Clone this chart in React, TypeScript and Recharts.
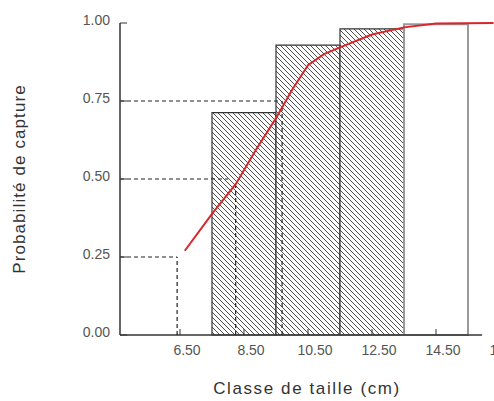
import React from 'react';
import { ComposedChart, Line, XAxis, YAxis, ReferenceLine, ReferenceArea } from 'recharts';

// Histogram of size classes (class centre, cm) and observed capture probability
const classMid = [8.5, 10.5, 12.5, 14.5];
const classProb = [0.7125, 0.929, 0.981, 0.996];
const CLASS_WIDTH = 2;

// Fitted selection curve (length, probability)
const curveLen = [6.65, 7.5, 8.25, 8.85, 9.5, 10.0, 10.5, 11.0, 11.5, 12.5, 13.5, 14.5, 16.3];
const curveProb = [0.27, 0.388, 0.485, 0.59, 0.695, 0.785, 0.865, 0.9, 0.922, 0.963, 0.986, 0.998, 1.0];

// Quartile guide lines (L25, L50, L75)
const quartileP = [0.25, 0.5, 0.75];
const quartileHEnd = [6.41, 8.0, 9.63];
const quartileLen = [6.41, 8.24, 9.69];
const quartileTop = [0.25, 0.48, 0.75];

// Axis ticks
const xTicks = [6.5, 8.5, 10.5, 12.5, 14.5, 16.5];
const yTicks = [0, 0.25, 0.5, 0.75, 1];

const X_MIN = 4.625;
const X_MAX = 16.3125;
const X_AXIS_END = 15.94;

const curveData = curveLen.map((x, i) => ({ x, y: curveProb[i] }));

const FONT = '"Liberation Sans", Arial, sans-serif';

const XTick = (props: any) => {
  const { x, y, payload } = props;
  return (
    <g>
      <line x1={x} x2={x} y1={y - 8} y2={y - 14} stroke="#333" strokeWidth={1} />
      <text x={x + 7} y={y} dy={12} textAnchor="middle" fill="#555" fontSize={14} fontFamily={FONT}>
        {Number(payload.value).toFixed(2)}
      </text>
    </g>
  );
};

const YTick = (props: any) => {
  const { x, y, payload } = props;
  return (
    <g>
      <line x1={x + 10} x2={x + 17} y1={y} y2={y} stroke="#333" strokeWidth={1} />
      <text x={x} y={y} dy={2} textAnchor="end" fill="#555" fontSize={14} fontFamily={FONT}>
        {Number(payload.value).toFixed(2)}
      </text>
    </g>
  );
};

export default function App() {
  const last = classMid.length - 1;
  return (
    <div style={{ position: 'absolute', left: 0, top: 0 }}>
      <ComposedChart
        width={494}
        height={401}
        data={curveData}
        margin={{ top: 23, right: 0, bottom: 0, left: 0 }}
      >
        <defs>
          <pattern id="hatch" patternUnits="userSpaceOnUse" width={5} height={5}>
            <rect x={0} y={0} width={5} height={5} fill="#ffffff" />
            <path d="M-1,-1 L6,6 M-1,4 L1,6 M4,-1 L6,1" stroke="#3a3a3a" strokeWidth={0.9} />
          </pattern>
        </defs>
        <XAxis
          type="number"
          dataKey="x"
          domain={[X_MIN, X_MAX]}
          allowDataOverflow
          ticks={xTicks}
          interval={0}
          height={66}
          axisLine={false}
          tickLine={false}
          tickSize={6}
          tickMargin={2}
          tick={<XTick />}
          label={{
            value: 'Classe de taille (cm)',
            position: 'insideBottom',
            offset: 7,
            fill: '#333',
            fontSize: 17,
            style: { fontFamily: FONT, letterSpacing: '1.6px' },
          }}
        />
        <YAxis
          type="number"
          domain={[0, 1]}
          ticks={yTicks}
          interval={0}
          width={120}
          axisLine={{ stroke: '#333', strokeWidth: 1.5 }}
          tickLine={false}
          tickSize={8}
          tickMargin={2}
          tick={<YTick />}
          label={{
            value: 'Probabilité de capture',
            angle: -90,
            position: 'insideLeft',
            offset: 19,
            fill: '#333',
            fontSize: 17,
            style: { textAnchor: 'middle', fontFamily: FONT, letterSpacing: '1.1px' },
          }}
        />
        {classMid.map((m, i) => (
          <ReferenceArea
            key={'bar' + i}
            x1={m - CLASS_WIDTH / 2}
            x2={m + CLASS_WIDTH / 2}
            y1={0}
            y2={classProb[i]}
            fill={i === last ? '#ffffff' : 'url(#hatch)'}
            fillOpacity={1}
            stroke={i === last ? '#9a9a9a' : '#333'}
            strokeWidth={i === last ? 2 : 1.2}
            ifOverflow="visible"
          />
        ))}
        <ReferenceLine
          segment={[{ x: X_MIN, y: 0 }, { x: X_AXIS_END, y: 0 }]}
          stroke="#333"
          strokeWidth={1.5}
          ifOverflow="visible"
        />
        {quartileP.map((p, i) => (
          <ReferenceLine
            key={'h' + i}
            segment={[{ x: X_MIN, y: p }, { x: quartileHEnd[i], y: p }]}
            stroke="#222"
            strokeWidth={1.2}
            strokeDasharray="4 3"
            ifOverflow="visible"
          />
        ))}
        {quartileLen.map((l, i) => (
          <ReferenceLine
            key={'v' + i}
            segment={[{ x: l, y: 0 }, { x: l, y: quartileTop[i] }]}
            stroke="#222"
            strokeWidth={1.2}
            strokeDasharray="4 3"
            ifOverflow="visible"
          />
        ))}
        <Line
          dataKey="y"
          type="linear"
          stroke="#d8262a"
          strokeWidth={2}
          dot={false}
          isAnimationActive={false}
        />
      </ComposedChart>
    </div>
  );
}
